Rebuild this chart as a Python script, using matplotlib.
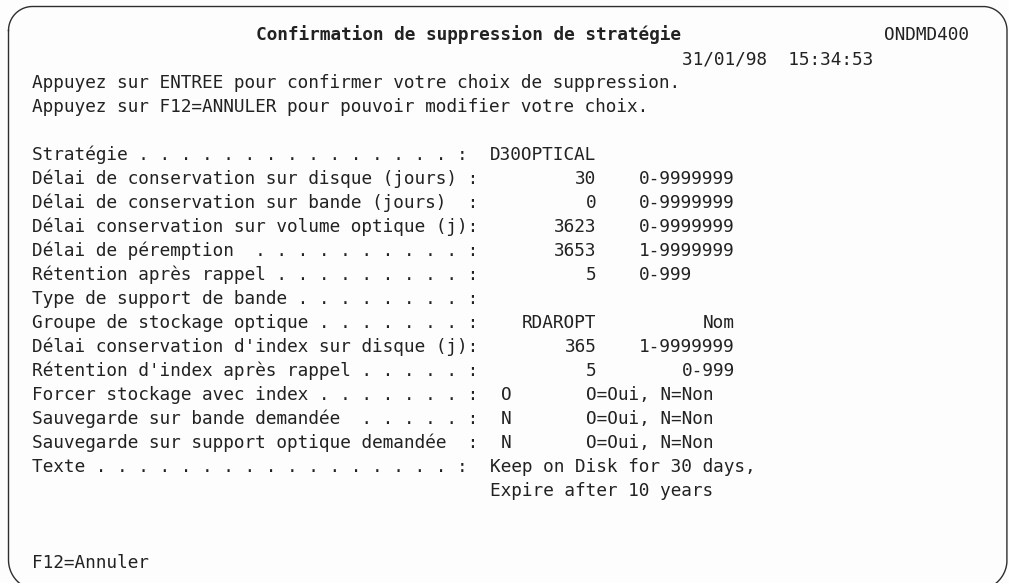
import matplotlib
matplotlib.use("Agg")
import matplotlib.pyplot as plt
import numpy as np

# ---------------- data (screen content) ----------------
title = "Confirmation de suppression de stratégie"
screen_id = "ONDMD400"
date_time = "31/01/98  15:34:53"
instructions = [
    "Appuyez sur ENTREE pour confirmer votre choix de suppression.",
    "Appuyez sur F12=ANNULER pour pouvoir modifier votre choix.",
]
field_labels = [
    "Stratégie . . . . . . . . . . . . . . . :",
    "Délai de conservation sur disque (jours) :",
    "Délai de conservation sur bande (jours)  :",
    "Délai conservation sur volume optique (j):",
    "Délai de péremption  . . . . . . . . . . :",
    "Rétention après rappel . . . . . . . . . :",
    "Type de support de bande . . . . . . . . :",
    "Groupe de stockage optique . . . . . . . :",
    "Délai conservation d'index sur disque (j):",
    "Rétention d'index après rappel . . . . . :",
    "Forcer stockage avec index . . . . . . . :",
    "Sauvegarde sur bande demandée  . . . . . :",
    "Sauvegarde sur support optique demandée  :",
    "Texte . . . . . . . . . . . . . . . . . :",
]
field_values = ["D30OPTICAL", "30", "0", "3623", "3653", "5", "",
                "RDAROPT", "365", "5", "O", "N", "N",
                "Keep on Disk for 30 days,"]
field_ranges = ["", "0-9999999", "0-9999999", "0-9999999", "1-9999999",
                "0-999", "", "Nom", "1-9999999", "0-999",
                "O=Oui, N=Non", "O=Oui, N=Non", "O=Oui, N=Non", ""]
text_continuation = "Expire after 10 years"
function_keys = "F12=Annuler"

# ---------------- layout (terminal grid) ----------------
W, H = 1009, 583
X0, CW = 32.5, 10.64     # left edge of column 0, character width (px)
Y0, RH = 40.0, 24.0      # baseline of row 0, row height (px)
FS = 12.75
FONT = "DejaVu Sans Mono"
COLOR = "#222222"

# per-field placement: alignment + column
value_layout = ["L43", "R52", "R52", "R52", "R52", "R52", "R52",
                "R52", "R52", "R52", "L44", "L44", "L44", "L43"]
range_layout = ["L57", "L57", "L57", "L57", "L57", "L57", "L57",
                "R65", "L57", "R65", "L52", "L52", "L52", "L57"]

fig = plt.figure(figsize=(W / 100, H / 100), dpi=100)
fig.patch.set_facecolor("#fdfdfd")
ax = fig.add_axes([0, 0, 1, 1])
ax.set_xlim(0, W)
ax.set_ylim(H, 0)
ax.axis("off")


def put(s, col, row, align="L", bold=False):
    if not s:
        return
    if align == "L":
        x, ha = X0 + col * CW, "left"
    else:
        x, ha = X0 + (col + 1) * CW, "right"
    ax.text(x, Y0 + row * RH, s, ha=ha, va="baseline", fontsize=FS,
            family=FONT, color=COLOR,
            fontweight="bold" if bold else "normal")


put(title, 21, 0, bold=True)
put(screen_id, 80, 0)
put(date_time, 61, 1)
for i, line in enumerate(instructions):
    put(line, 0, 2 + i)
for i, lab in enumerate(field_labels):
    row = 5 + i
    put(lab, 0, row)
    v = value_layout[i]
    put(field_values[i], int(v[1:]), row, v[0])
    r = range_layout[i]
    put(field_ranges[i], int(r[1:]), row, r[0])
put(text_continuation, 43, 5 + len(field_labels))
put(function_keys, 0, 22)

# rounded border of the screen (bottom edge lies just below the image)
L, R, T, B = 8.5, 1007.0, 6.5, 590.0
rt, rb = 24.0, 30.0


def arc(cx, cy, r, a0, a1, n=40):
    a = np.linspace(np.radians(a0), np.radians(a1), n)
    return cx + r * np.cos(a), cy + r * np.sin(a)


segs = [
    arc(L + rt, T + rt, rt, 180, 270),      # top-left
    arc(R - rt, T + rt, rt, 270, 360),      # top-right
    arc(R - rb, B - rb, rb, 0, 90),         # bottom-right
    arc(L + rb, B - rb, rb, 90, 180),       # bottom-left
]
xs = np.concatenate([s[0] for s in segs] + [segs[0][0][:1]])
ys = np.concatenate([s[1] for s in segs] + [segs[0][1][:1]])
ax.plot(xs, ys, color="#2e2e2e", linewidth=1.0, clip_on=False,
        solid_joinstyle="round")

fig.savefig("out.png", dpi=100, facecolor=fig.get_facecolor())
